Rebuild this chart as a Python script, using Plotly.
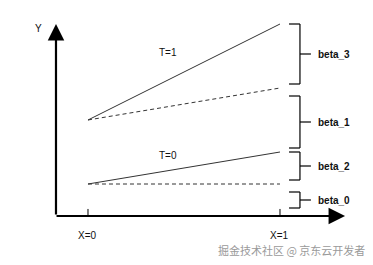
import plotly.graph_objects as go

# Model coefficients (in diagram units)
beta_0 = 1.0
beta_1 = 2.0
beta_2 = 1.0
beta_3 = 2.0

x_vals = [0, 1]
x_labels = ["X=0", "X=1"]
group_labels = ["T=0", "T=1"]
beta_names = ["beta_0", "beta_2", "beta_1", "beta_3"]
beta_steps = [beta_0, beta_2, beta_1, beta_3]
bracket_gap_lo = [0.25, 0.125, 0.125, 0.125]
bracket_gap_hi = [0.25, 0.0, 0.25, 0.0]
watermark = "掘金技术社区 @ 京东云开发者"

# derived lines
t0_solid = [beta_0, beta_0 + beta_2]
t0_dash = [beta_0, beta_0]
t1_solid = [beta_0 + beta_1, beta_0 + beta_1 + beta_2 + beta_3]
t1_dash = [beta_0 + beta_1, beta_0 + beta_1 + beta_2]

LINE = "#333333"
fig = go.Figure()
fig.add_trace(go.Scatter(x=x_vals, y=t1_solid, mode="lines", line=dict(color=LINE, width=1)))
fig.add_trace(go.Scatter(x=x_vals, y=t1_dash, mode="lines", line=dict(color=LINE, width=1, dash="4px,3px")))
fig.add_trace(go.Scatter(x=x_vals, y=t0_solid, mode="lines", line=dict(color=LINE, width=1)))
fig.add_trace(go.Scatter(x=x_vals, y=t0_dash, mode="lines", line=dict(color=LINE, width=1, dash="4px,3px")))

ax_x = -0.1667
x_end = 1.339
y_top = 6.0

shapes = []
annotations = []

# axes with arrows
annotations.append(dict(x=ax_x, y=y_top, ax=ax_x, ay=0, xref="x", yref="y", axref="x", ayref="y",
                        showarrow=True, arrowhead=2, arrowsize=1.5, arrowwidth=2.2, arrowcolor="#000", text=""))
annotations.append(dict(x=x_end, y=0, ax=ax_x - 0.005, ay=0, xref="x", yref="y", axref="x", ayref="y",
                        showarrow=True, arrowhead=2, arrowsize=1.5, arrowwidth=2.2, arrowcolor="#000", text=""))

# x ticks
for xv, lab in zip(x_vals, x_labels):
    shapes.append(dict(type="line", x0=xv, x1=xv, y0=0, y1=0.22, line=dict(color="#000", width=1)))
    annotations.append(dict(x=xv, y=-0.62, text=lab, showarrow=False,
                            font=dict(family="Liberation Sans, Arial", size=10, color="#111")))

annotations.append(dict(x=ax_x - 0.09, y=5.87, text="Y", showarrow=False,
                        font=dict(family="Liberation Sans, Arial", size=10, color="#111")))
annotations.append(dict(x=0.417, y=t1_solid[0] + 2.1, text=group_labels[1], showarrow=False,
                        font=dict(family="Liberation Sans, Arial", size=10, color="#111")))
annotations.append(dict(x=0.417, y=t0_solid[0] + 0.88, text=group_labels[0], showarrow=False,
                        font=dict(family="Liberation Sans, Arial", size=10, color="#111")))

# brackets
bx0, bx1, btick, blab = 1.047, 1.104, 1.161, 1.19
lo = 0.0
for name, step, glo, ghi in zip(beta_names, beta_steps, bracket_gap_lo, bracket_gap_hi):
    y0 = lo + glo
    y1 = lo + step - ghi
    mid = (y0 + y1) / 2
    for seg in [(bx0, y0, bx1, y0), (bx1, y0, bx1, y1), (bx0, y1, bx1, y1), (bx1, mid, btick, mid)]:
        shapes.append(dict(type="line", x0=seg[0], y0=seg[1], x1=seg[2], y1=seg[3],
                           line=dict(color="#000", width=1.2)))
    annotations.append(dict(x=blab, y=mid, text="<b>" + name + "</b>", showarrow=False, xanchor="left",
                            font=dict(family="Liberation Sans, Arial", size=10, color="#111")))
    lo += step

annotations.append(dict(x=1.06, y=-1.06, text=watermark, showarrow=False,
                        font=dict(family="Noto Sans CJK SC", size=11, color="#9a9a9a")))

fig.update_layout(
    width=373, height=265, margin=dict(l=0, r=0, t=0, b=0),
    paper_bgcolor="white", plot_bgcolor="white", showlegend=False,
    xaxis=dict(range=[-0.4583, 1.4844], visible=False, fixedrange=True),
    yaxis=dict(range=[-1.53125, 6.75], visible=False, fixedrange=True),
    shapes=shapes, annotations=annotations,
)
fig.write_html("out.html")
